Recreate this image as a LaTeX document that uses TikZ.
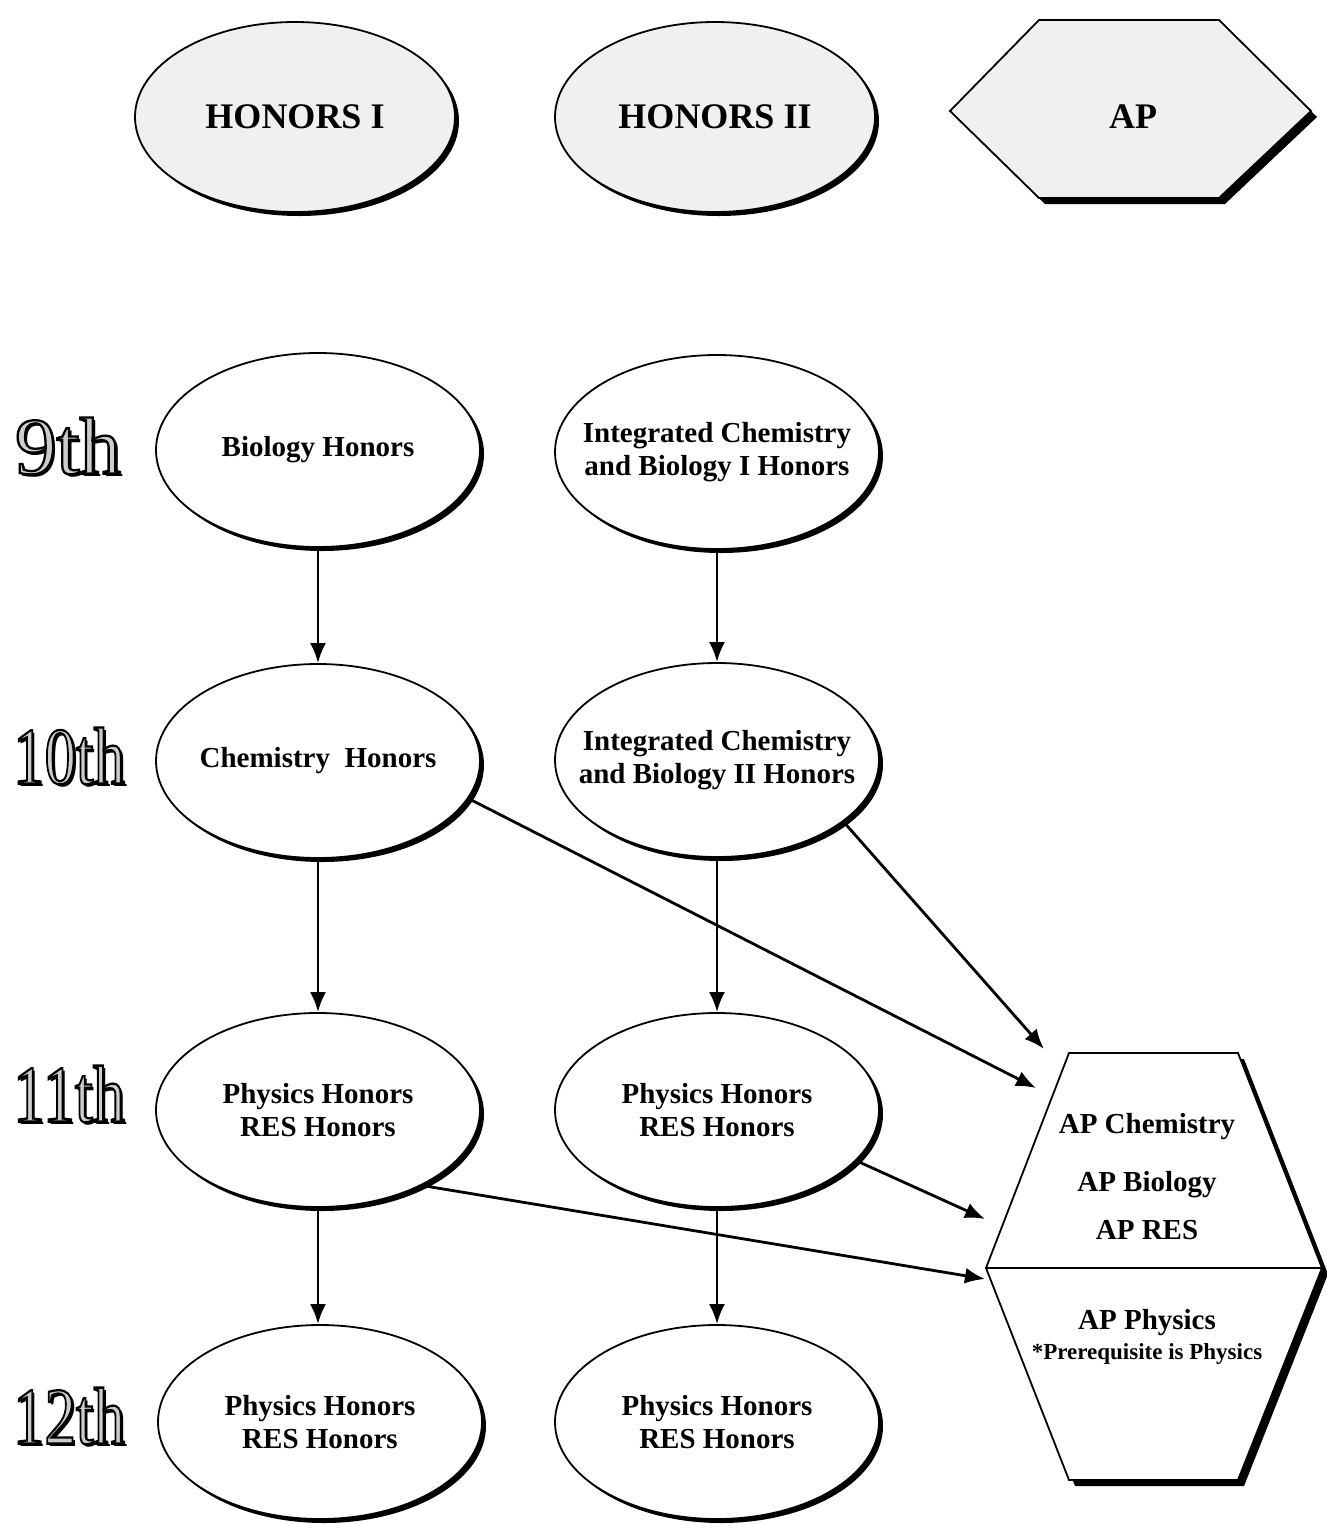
\documentclass[tikz,border=0pt]{standalone}
\usepackage{fontspec}
\usepackage{graphicx}
\setmainfont{Liberation Serif}
\usetikzlibrary{shapes.geometric,arrows.meta,shadows}
\definecolor{trackgray}{HTML}{F0F0F0}
\definecolor{gradegray}{HTML}{CCCCCC}
\newcommand\gradetxt[2]{\resizebox{#1pt}{56pt}{#2}}
\newcommand\gradeoutline[2]{\resizebox{#1pt}{56pt}{\special{pdf:literal direct 0 0 0 RG 0.28 w 2 Tr}#2\special{pdf:literal direct 0 Tr}}}
\newcommand\gradelabel[4]{%
  \node[gradeo, shift={(3,3)}] at (#2) {\gradetxt{#4}{#3}};
  \node[gradef] (#1) at (#2) {\gradeoutline{#4}{#3}};
}
\begin{document}
\begin{tikzpicture}[x=1pt,y=-1pt,
  course/.style={ellipse, draw=black, line width=1.8pt, fill=white,
    minimum width=324pt, minimum height=194pt, inner sep=-45pt, align=center,
    font=\bfseries\fontsize{29}{33}\selectfont,
    drop shadow={shadow xshift=4pt, shadow yshift=-4pt, fill=black, opacity=1}},
  track/.style={course, fill=trackgray, minimum width=320pt, minimum height=190pt,
    font=\bfseries\fontsize{36}{40}\selectfont},
  arr/.style={-{Latex[length=20pt,width=16pt]}, line width=2.8pt},
  hexline/.style={draw=black, line width=1.8pt, line join=miter},
  hexshadow/.style={drop shadow={shadow xshift=#1pt, shadow yshift=-#1pt, fill=black, opacity=1}},
  gradeo/.style={inner sep=0pt, text=black},
  gradef/.style={inner sep=0pt, text=gradegray},
  aptext/.style={font=\bfseries\fontsize{29}{33}\selectfont, inner sep=0pt},
  apsmall/.style={font=\bfseries\fontsize{23}{26}\selectfont, inner sep=0pt}
]
\useasboundingbox[fill=white] (0,0) rectangle (1327,1524);

% ---- header tracks ----
\node[track] (h1) at (295,117) {HONORS I};
\node[track] (h2) at (715,117) {HONORS II};

% AP hexagon (top)
\coordinate (a1) at (1039,20);
\coordinate (a2) at (1219,20);
\coordinate (a3) at (1311,111);
\coordinate (a4) at (1219,198);
\coordinate (a5) at (1039,198);
\coordinate (a6) at (950,111);
\path[hexline, fill=trackgray, hexshadow=6] (a1) -- (a2) -- (a3) -- (a4) -- (a5) -- (a6) -- cycle;
\node[font=\bfseries\fontsize{36}{40}\selectfont, inner sep=0pt] (aptop) at (1133,117) {AP};

% ---- grade labels ----
\gradelabel{g9}{68,446}{9th}{106}
\gradelabel{g10}{69,756}{10th}{112}
\gradelabel{g11}{69,1094}{11th}{112}
\gradelabel{g12}{69,1416}{12th}{112}

% ---- courses ----
\node[course] (bio)   at (318,450)  {Biology Honors};
\node[course] (icb1)  at (717,452)  {Integrated Chemistry\\and Biology I Honors};
\node[course] (chem)  at (318,761)  {Chemistry~~Honors};
\node[course] (icb2)  at (717,760)  {Integrated Chemistry\\and Biology II Honors};
\node[course] (phl)   at (318,1110) {Physics Honors\\RES Honors};
\node[course] (phm)   at (717,1110) {Physics Honors\\RES Honors};
\node[course] (ptl)   at (320,1422) {Physics Honors\\RES Honors};
\node[course] (ptm)   at (717,1422) {Physics Honors\\RES Honors};

% ---- AP hexagon (right) ----
\coordinate (b1) at (1069,1053);
\coordinate (b2) at (1238,1053);
\coordinate (b3) at (1322,1268);
\coordinate (b4) at (1238,1480);
\coordinate (b5) at (1069,1480);
\coordinate (b6) at (986,1268);
\path[hexline, fill=white, hexshadow=6] (b1) -- (b2) -- (b3) -- (b4) -- (b5) -- (b6) -- cycle;
\draw[hexline] (b6) -- (b3);
\node[aptext] (apchem) at (1147,1127) {AP Chemistry};
\node[aptext] (apbio)  at (1147,1185) {AP Biology};
\node[aptext] (apres)  at (1147,1230) {AP RES};
\node[aptext] (apphys) at (1147,1323) {AP Physics};
\node[apsmall] (apreq) at (1147,1354) {*Prerequisite is Physics};

% ---- arrow ends ----
\coordinate (e1) at (1036,1088);
\coordinate (e2) at (1044,1049);
\coordinate (e3) at (985,1219);
\coordinate (e4) at (985,1279);

% ---- connectors ----
\draw[arr] (bio.south) -- (chem.north);
\draw[arr] (icb1.south) -- (icb2.north);
\draw[arr] (chem.south) -- (phl.north);
\draw[arr] (icb2.south) -- (phm.north);
\draw[arr] (phl.south) -- (ptl.north -| phl.south);
\draw[arr] (phm.south) -- (ptm.north);
\draw[arr] (chem.-14) -- (e1);
\draw[arr] (icb2.-26) -- (e2);
\draw[arr] (phm.-20) -- (e3);
\draw[arr] (phl.-36) -- (e4);
\end{tikzpicture}
\end{document}
